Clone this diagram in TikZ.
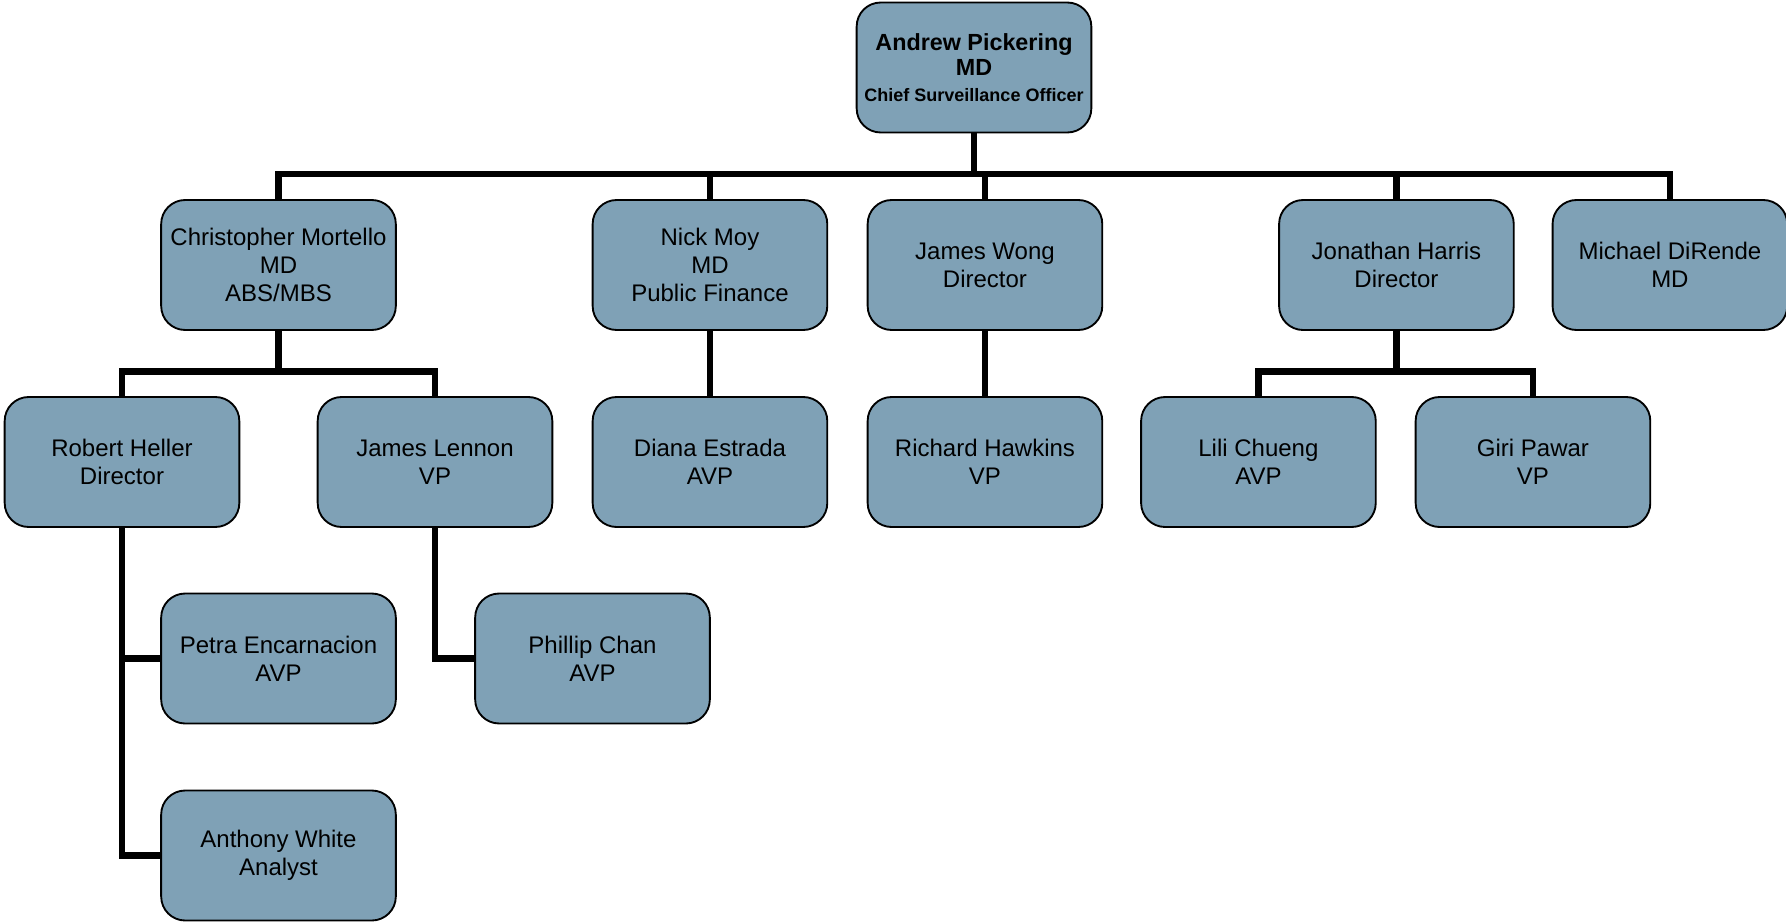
\documentclass[tikz,border=0pt]{standalone}
\usepackage{fontspec}
\setmainfont{Liberation Sans}
\usetikzlibrary{positioning}
\definecolor{boxblue}{RGB}{127,161,182}

\begin{document}
\begin{tikzpicture}[x=0.75pt,y=-0.75pt,
    person/.style={draw,line width=1.4pt,fill=boxblue,rounded corners=18pt,
      minimum width=176pt,minimum height=97.5pt,inner sep=0pt,outer sep=0pt,
      align=center,font=\fontsize{18}{21}\selectfont},
    link/.style={line width=4.8pt}]
    \useasboundingbox (0,0) rectangle (1786,924);
    \node[person,font=\bfseries\fontsize{17.5}{19}\selectfont] (pickering) at (974,67.5)
      {Andrew Pickering\\MD\\\fontsize{13.5}{15}\selectfont Chief Surveillance Officer};
    \node[person] (mortello) at (278.5,265) {Christopher Mortello\\MD\\ABS/MBS};
    \node[person] (moy) [right=147.6pt of mortello] {Nick Moy\\MD\\Public Finance};
    \node[person] (wong) [right=30.25pt of moy] {James Wong\\Director};
    \node[person] (harris) [right=132.6pt of wong] {Jonathan Harris\\Director};
    \node[person] (dirende) [right=29.1pt of harris] {Michael DiRende\\MD};
    \node[person] (heller) at (122,462) {Robert Heller\\Director};
    \node[person] (lennon) [right=58.75pt of heller] {James Lennon\\VP};
    \node[person] (estrada) [below=50.25pt of moy] {Diana Estrada\\AVP};
    \node[person] (hawkins) [below=50.25pt of wong] {Richard Hawkins\\VP};
    \node[person] (chueng) [right=29.1pt of hawkins] {Lili Chueng\\AVP};
    \node[person] (pawar) [right=29.9pt of chueng] {Giri Pawar\\VP};
    \node[person] (encarnacion) at (278.5,658.5) {Petra Encarnacion\\AVP};
    \node[person] (chan) [right=59.5pt of encarnacion] {Phillip Chan\\AVP};
    \node[person] (white) [below=50.25pt of encarnacion] {Anthony White\\Analyst};
    \coordinate (topbus) at (974,174);
    \coordinate (leftbus) at (278.5,371.5);
    \coordinate (rightbus) at (harris.south |- leftbus);
    \draw[link] (pickering.south) -- (topbus);
    \draw[link] (mortello.north) |- (topbus) -| (dirende.north);
    \draw[link] (moy.north) -- (moy.north |- topbus);
    \draw[link] (wong.north) -- (wong.north |- topbus);
    \draw[link] (harris.north) -- (harris.north |- topbus);
    \draw[link] (mortello.south) -- (leftbus);
    \draw[link] (heller.north) |- (leftbus) -| (lennon.north);
    \draw[link] (harris.south) -- (rightbus);
    \draw[link] (chueng.north) |- (rightbus) -| (pawar.north);
    \draw[link] (moy) -- (estrada);
    \draw[link] (wong) -- (hawkins);
    \draw[link] (heller.south) |- (white.west);
    \draw[link] (encarnacion.west) -- (encarnacion.west -| heller.south);
    \draw[link] (lennon.south) |- (chan.west);
\end{tikzpicture}
\end{document}
